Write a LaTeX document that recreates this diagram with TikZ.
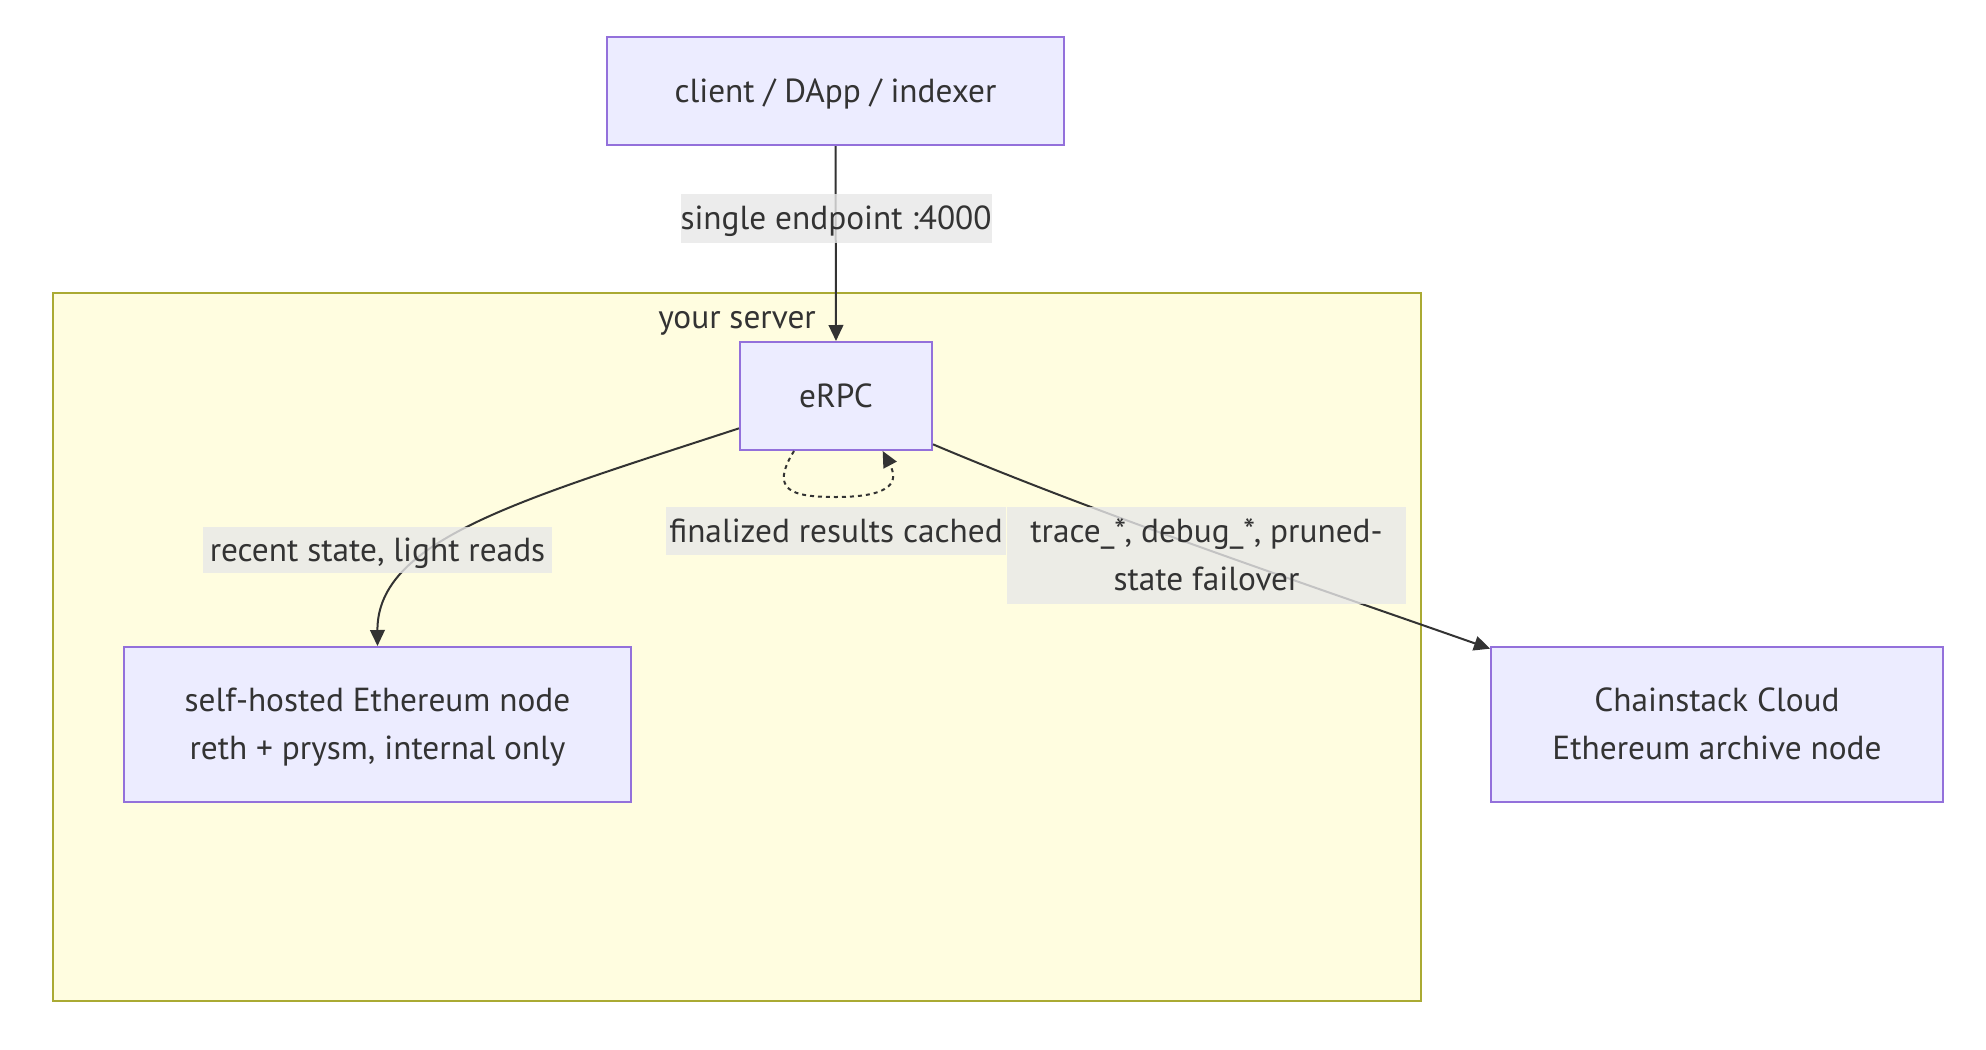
\documentclass[tikz,border=0pt]{standalone}
\usepackage{fontspec}
\setmainfont{PT Sans}
\usetikzlibrary{arrows.meta,calc}
\definecolor{nodefill}{HTML}{ECECFF}
\definecolor{nodeborder}{HTML}{9370DB}
\definecolor{sgfill}{HTML}{FFFDE0}
\definecolor{sgborder}{HTML}{AAAA33}
\definecolor{lblfill}{HTML}{E8E8E8}
\definecolor{ink}{HTML}{333333}
\tikzset{
  box/.style={draw=nodeborder, fill=nodefill, line width=1.5pt, inner sep=0pt,
    align=center, text=ink, font=\fontsize{25}{36}\selectfont},
  elabel/.style={fill=lblfill, fill opacity=0.8, text opacity=1, text=ink, inner sep=0pt,
    align=center, font=\fontsize{25}{36}\selectfont},
  oneline/.style={text height=22pt, text depth=5pt},
  twoline/.style={text height=58pt, text depth=5pt},
  conn/.style={draw=ink, line width=1.5pt, -{Triangle[length=12pt,width=11pt]}},
  loopconn/.style={conn, dash pattern=on 3pt off 3pt},
}
\begin{document}
\begin{tikzpicture}[x=0.75pt,y=-0.75pt]
\useasboundingbox (0,0) rectangle (1986,1050);
\fill[white] (0,0) rectangle (1986,1050);
% subgraph
\draw[draw=sgborder, fill=sgfill, line width=1.5pt] (53,293) rectangle (1421,1001);
\node[text=ink, font=\fontsize{25}{36}\selectfont, oneline] (sgtitle) at (737,317) {your server};
% nodes
\node[box, oneline, minimum width=457*0.75pt, minimum height=108*0.75pt] (client) at (835.5,91) {client / DApp / indexer};
\node[box, oneline, minimum width=192*0.75pt, minimum height=108*0.75pt] (erpc) at (836,396) {eRPC};
\node[box, twoline, minimum width=507*0.75pt, minimum height=155*0.75pt] (self) at (377.5,724.5) {self-hosted Ethereum node\\reth + prysm, internal only};
\node[box, twoline, minimum width=452*0.75pt, minimum height=155*0.75pt] (chain) at (1717,724.5) {Chainstack Cloud\\Ethereum archive node};
% connectors
\draw[conn] (client.south) -- (erpc.north);
\draw[conn] ([yshift=17pt]erpc.south west) .. controls (520,500) and (377,540) .. (self.north);
\draw[conn] ([yshift=5pt]erpc.south east) .. controls (1100,515) and (1300,582) .. ([yshift=-2pt]chain.north west);
\draw[loopconn] ([xshift=-31.5pt]erpc.south) .. controls (770,490) and (790,497) .. (836,497)
  .. controls (895,497) and (898,480) .. ([xshift=35pt]erpc.south);
% edge labels
\node[elabel, oneline, minimum width=306*0.75pt, minimum height=49*0.75pt] (l1) at (836,218.5) {single endpoint :4000};
\node[elabel, oneline, minimum width=349*0.75pt, minimum height=46*0.75pt] (l2) at (377.5,550) {recent state, light reads};
\node[elabel, oneline, minimum width=340*0.75pt, minimum height=48*0.75pt] (l3) at (836,531) {finalized results cached};
\node[elabel, twoline, minimum width=399*0.75pt, minimum height=97*0.75pt] (l4) at (1206.5,555.5) {trace\_*, debug\_*, pruned-\\state failover};
\end{tikzpicture}
\end{document}
